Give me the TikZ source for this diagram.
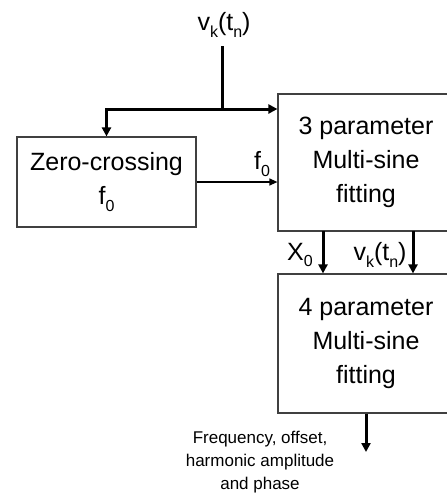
\documentclass[tikz,border=0pt]{standalone}
\usepackage{fontspec}
\setmainfont{Liberation Sans}
\usetikzlibrary{arrows.meta,calc}
% low, fairly large subscript as in the original figure
\newcommand{\subidx}[1]{\raisebox{-0.25em}{\fontsize{16}{16}\selectfont #1}}

\begin{document}
\begin{tikzpicture}[
  x=1pt, y=-1pt,
  font=\fontsize{25}{34}\selectfont,
  blk/.style={draw=black!75, line width=1.2pt, align=center, inner sep=0pt},
  bus/.style={line width=3pt, -{Triangle[length=9pt,width=9pt]}},
  sig/.style={line width=1.3pt, -{Triangle[length=8pt,width=7pt]}},
  lbl/.style={inner sep=0pt}
]
\useasboundingbox (0,0) rectangle (447,493);
\clip (0,0) rectangle (447,493);

% Blocks
\node[blk, minimum width=179pt, minimum height=90pt] (zc) at (106.5,182) {Zero-crossing\\f\subidx{0}};
\node[blk, minimum width=176pt, minimum height=137pt] (p3) at (366,162.5) {3 parameter\\Multi-sine\\fitting};
\node[blk, minimum width=176pt, minimum height=139pt] (p4) at (366,343.5) {4 parameter\\Multi-sine\\fitting};

% Input samples
\node[lbl] (vin) at (224,25) {v\subidx{k}(t\subidx{n})};
\coordinate (in) at (222,46);
\coordinate (split) at (222,109);
\draw[line width=3pt] (in) -- (split);
\draw[bus] (split) -- (split -| p3.west);
\draw[bus] (split) -| (zc.north);

% f0 estimate
\draw[sig] (zc.east) -- (zc.east -| p3.west);
\node[lbl] (f0) at (262,164) {f\subidx{0}};

% 3 parameter -> 4 parameter
\coordinate (x0a) at (323,231);
\coordinate (vka) at (413,231);
\draw[bus] (x0a) -- (x0a |- p4.north);
\draw[bus] (vka) -- (vka |- p4.north);
\node[lbl] (x0) at (300,255) {X\subidx{0}};
\node[lbl] (vk) at (380,255) {v\subidx{k}(t\subidx{n})};

% Output
\coordinate (outa) at (366,452);
\draw[bus] (p4.south -| outa) -- (outa);
\node[lbl, align=center, font=\fontsize{17}{23}\selectfont] (res) at (260,462)
  {Frequency, offset,\\harmonic amplitude\\and phase};

\end{tikzpicture}
\end{document}
